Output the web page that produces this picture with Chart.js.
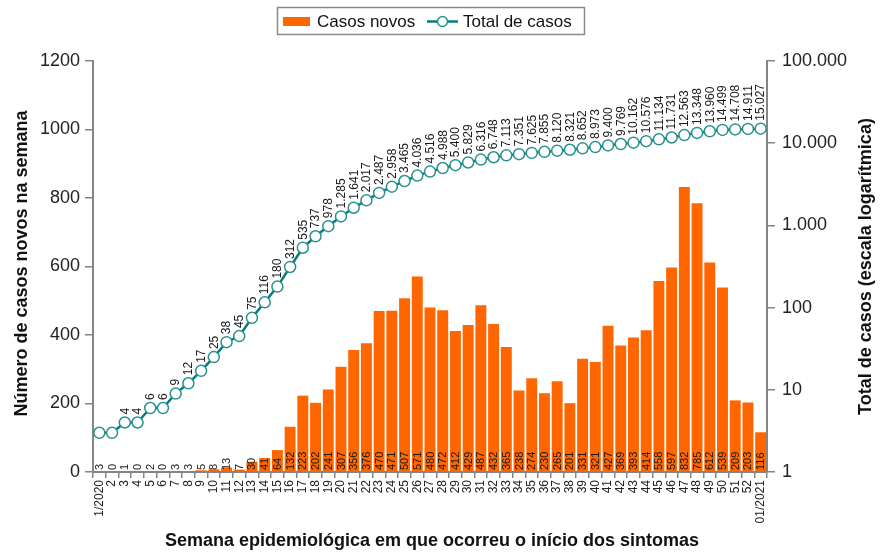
<!DOCTYPE html>
<html>
<head>
<meta charset="utf-8">
<script src="https://cdn.jsdelivr.net/npm/chart.js@4/dist/chart.umd.min.js"></script>
<style>
html,body{margin:0;padding:0;background:#fff;}
#wrap{width:887px;height:552px;position:relative;}
</style>
</head>
<body>
<div id="wrap"><canvas id="c" width="887" height="552"></canvas></div>
<script>
const weeks = ['1/2020','2','3','4','5','6','7','8','9','10','11','12','13','14','15','16','17','18','19','20',
  '21','22','23','24','25','26','27','28','29','30','31','32','33','34','35','36','37','38','39','40',
  '41','42','43','44','45','46','47','48','49','50','51','52','01/2021'];
const newCases = [3,0,1,0,2,0,3,3,5,8,13,7,30,41,64,132,223,202,241,307,
  356,376,470,471,507,571,480,472,412,429,487,432,365,238,274,230,265,201,331,321,
  427,369,393,414,558,597,832,785,612,539,209,203,116];
const totalCases = [3,3,4,4,6,6,9,12,17,25,38,45,75,116,180,312,535,737,978,1285,
  1641,2017,2487,2958,3465,4036,4516,4988,5400,5829,6316,6748,7113,7351,7625,7855,8120,8321,8652,8973,
  9400,9769,10162,10576,11134,11731,12563,13348,13960,14499,14708,14911,15027];
const leftTicks = [0,200,400,600,800,1000,1200];
const rightTicks = [1,10,100,1000,10000,100000];
const seriesNames = ['Casos novos','Total de casos'];
const titleX = 'Semana epidemiológica em que ocorreu o início dos sintomas';
const titleLeft = 'Número de casos novos na semana';
const titleRight = 'Total de casos (escala logarítmica)';

const ORANGE = '#FF6600';
const TEAL = '#067C7C';
const TEAL_PT = '#2A9191';
const AXIS = '#858585';
const FONT = '"Liberation Sans", Arial, sans-serif';

function fmt(v){ return String(v).replace(/\B(?=(\d{3})+(?!\d))/g,'.'); }

const decor = {
  id:'decor',
  afterDatasetsDraw(chart){
    const ctx = chart.ctx;
    const ys = chart.scales.y;
    const y0 = ys.getPixelForValue(0);
    ctx.save();
    ctx.fillStyle = '#1a1a1a';
    ctx.textAlign = 'left';
    ctx.textBaseline = 'middle';
    ctx.font = '11px ' + FONT;
    chart.getDatasetMeta(0).data.forEach((el,i)=>{
      ctx.save(); ctx.translate(el.x, y0-2); ctx.rotate(-Math.PI/2);
      ctx.fillText(String(newCases[i]),0,0.5); ctx.restore();
    });
    ctx.font = '12px ' + FONT;
    chart.getDatasetMeta(1).data.forEach((el,i)=>{
      if(i<2) return;
      ctx.save(); ctx.translate(el.x, el.y-8); ctx.rotate(-Math.PI/2);
      ctx.fillText(fmt(totalCases[i]),0,0.5); ctx.restore();
    });
    ctx.restore();
  },
  afterDraw(chart){
    const ctx = chart.ctx;
    const ca = chart.chartArea;
    const cy = (ca.top+ca.bottom)/2;
    ctx.save();
    ctx.fillStyle = '#111';
    ctx.font = 'bold 18px ' + FONT;
    ctx.textAlign = 'center';
    ctx.textBaseline = 'middle';
    ctx.fillText(titleX, 432, 541);
    ctx.save(); ctx.translate(22, cy-3); ctx.rotate(-Math.PI/2); ctx.fillText(titleLeft,0,0); ctx.restore();
    ctx.save(); ctx.translate(866, cy); ctx.rotate(-Math.PI/2); ctx.fillText(titleRight,0,0); ctx.restore();
    // legend
    ctx.strokeStyle = '#8a8a8a'; ctx.lineWidth = 1.5;
    ctx.strokeRect(277.5, 7.5, 307, 27);
    ctx.fillStyle = ORANGE;
    ctx.fillRect(283, 17, 27, 9);
    ctx.fillStyle = '#111';
    ctx.font = '17px ' + FONT;
    ctx.textAlign = 'left';
    ctx.fillText(seriesNames[0], 317, 22);
    ctx.strokeStyle = TEAL; ctx.lineWidth = 2.5;
    ctx.beginPath(); ctx.moveTo(427,21.5); ctx.lineTo(458,21.5); ctx.stroke();
    ctx.beginPath(); ctx.arc(442.5,21.5,5,0,Math.PI*2); ctx.fillStyle='#fff'; ctx.fill();
    ctx.strokeStyle = TEAL_PT; ctx.lineWidth = 1.5; ctx.stroke();
    ctx.fillStyle = '#111';
    ctx.fillText(seriesNames[1], 463, 22);
    ctx.restore();
  }
};

new Chart(document.getElementById('c'), {
  data:{
    labels: weeks,
    datasets:[
      {type:'bar', label:seriesNames[0], data:newCases, backgroundColor:ORANGE, yAxisID:'y',
       barPercentage:0.86, categoryPercentage:1.0, order:2},
      {type:'line', label:seriesNames[1], data:totalCases, yAxisID:'y2', borderColor:TEAL, borderWidth:2.5,
       pointRadius:5.5, pointBorderWidth:1.5, pointBackgroundColor:'#fff', pointBorderColor:TEAL_PT,
       tension:0, order:1}
    ]
  },
  options:{
    responsive:false,
    animation:false,
    devicePixelRatio:1,
    layout:{padding:{top:61,left:0,right:0,bottom:0}},
    plugins:{legend:{display:false}, tooltip:{enabled:false}},
    scales:{
      x:{
        offset:true,
        grid:{display:true, drawOnChartArea:false, offset:true, tickLength:6, color:AXIS, lineWidth:1.5},
        border:{color:AXIS, width:2},
        ticks:{autoSkip:false, minRotation:90, maxRotation:90, color:'#222', font:{family:FONT, size:12}, padding:2},
        afterFit(s){ s.height = 80; }
      },
      y:{
        position:'left', min:0, max:1200,
        afterBuildTicks(s){ s.ticks = leftTicks.map(v=>({value:v})); },
        grid:{display:true, drawOnChartArea:false, tickLength:8, color:AXIS, lineWidth:1.5},
        border:{color:AXIS, width:2},
        ticks:{color:'#222', font:{family:FONT, size:18}, padding:5, callback:(v)=>String(v)},
        afterFit(s){ s.width = 93; }
      },
      y2:{
        type:'logarithmic', position:'right', min:1, max:100000,
        afterBuildTicks(s){ s.ticks = rightTicks.map(v=>({value:v})); },
        grid:{display:true, drawOnChartArea:false, tickLength:8, color:AXIS, lineWidth:1.5},
        border:{color:AXIS, width:2},
        ticks:{color:'#222', font:{family:FONT, size:18}, padding:7, callback:(v)=>fmt(v)},
        afterFit(s){ s.width = 120; }
      }
    }
  },
  plugins:[decor]
});
</script>
</body>
</html>
